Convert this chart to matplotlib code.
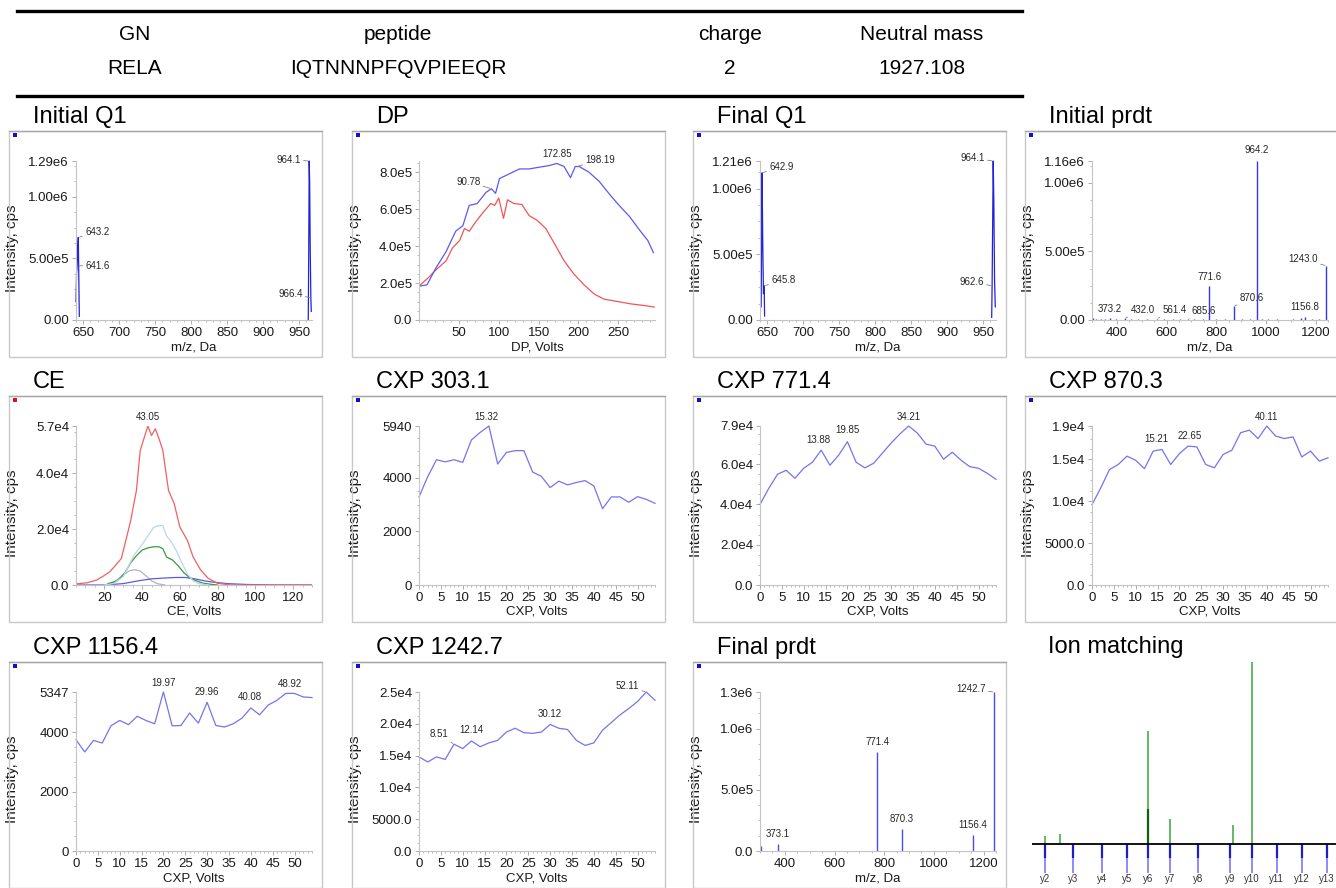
import numpy as np
import matplotlib.pyplot as plt
from matplotlib import font_manager
from matplotlib.lines import Line2D
from matplotlib.patches import Rectangle
from matplotlib.ticker import MultipleLocator, FixedLocator, AutoMinorLocator

W, H = 1336, 888

# ---- table ----
tbl_header = ['GN', 'peptide', 'charge', 'Neutral mass']
tbl_row = ['RELA', 'IQTNNNPFQVPIEEQR', '2', '1927.108']

# ---- Initial Q1 (profile, nan separates the two windows) ----
iq1_mz = [640.0, 640.8, 641.6, 642.4, 643.2, 644.0, 644.6, np.nan,
          962.8, 963.4, 964.1, 964.8, 965.5, 966.4, 967.0]
iq1_int = [1.5e5, 3.8e5, 4.4e5, 6.0e5, 6.7e5, 3.0e5, 0.3e5, np.nan,
           0.0, 5.0e5, 1.29e6, 1.1e6, 6.0e5, 1.8e5, 0.7e5]

# ---- DP ----
dp_v_blue = [0, 10, 21, 34, 46, 55, 63, 73, 84, 90.78, 96, 101, 113, 126, 138, 150,
             163, 172.85, 182, 190, 196, 201, 213, 226, 239, 251, 264, 276, 287, 294]
dp_blue = [1.83e5, 1.9e5, 2.8e5, 3.7e5, 4.8e5, 5.1e5, 6.2e5, 6.3e5, 6.9e5, 7.1e5, 6.85e5,
           7.65e5, 7.9e5, 8.17e5, 8.17e5, 8.26e5, 8.35e5, 8.47e5, 8.3e5, 7.7e5, 8.3e5,
           8.3e5, 8.0e5, 7.5e5, 6.8e5, 6.2e5, 5.6e5, 4.9e5, 4.3e5, 3.65e5]
dp_v_red = [0, 11, 21, 34, 42, 51, 57, 63, 71, 80, 90, 95, 100, 106, 111, 119, 129,
            138, 148, 159, 169, 182, 194, 207, 220, 232, 249, 266, 283, 295]
dp_red = [1.83e5, 2.26e5, 2.7e5, 3.2e5, 3.9e5, 4.3e5, 4.95e5, 4.8e5, 5.3e5, 5.8e5,
          6.3e5, 6.2e5, 6.6e5, 5.5e5, 6.5e5, 6.3e5, 6.25e5, 5.65e5, 5.4e5, 4.95e5,
          4.2e5, 3.2e5, 2.5e5, 1.9e5, 1.4e5, 1.13e5, 1.0e5, 0.87e5, 0.78e5, 0.7e5]

# ---- Final Q1 ----
fq1_mz = [641.6, 642.9, 643.8, 644.8, 645.8, 646.4, np.nan,
          962.0, 962.6, 963.3, 964.1, 965.0, 966.0, 967.0]
fq1_int = [0.1e6, 1.12e6, 6.0e5, 2.0e5, 2.6e5, 0.3e5, np.nan,
           0.2e5, 2.6e5, 7.0e5, 1.21e6, 9.0e5, 3.0e5, 1.0e5]

# ---- Initial prdt (stick spectrum) ----
ip_mz = [303.0, 318.0, 335.0, 352.0, 373.2, 395.0, 432.0, 455.0, 487.0, 520.0, 561.4,
         590.0, 625.0, 655.0, 685.6, 712.0, 745.0, 771.6, 800.0, 836.0, 870.6, 905.0,
         938.0, 964.2, 985.0, 1010.0, 1045.0, 1078.0, 1110.0, 1140.0, 1156.8, 1185.0,
         1215.0, 1243.0]
ip_int = [1.5e4, 0.8e4, 0.6e4, 0.5e4, 1.6e4, 0.5e4, 1.2e4, 0.4e4, 0.6e4, 0.4e4, 0.9e4,
          0.4e4, 0.5e4, 0.6e4, 0.8e4, 0.5e4, 0.4e4, 2.47e5, 0.5e4, 0.6e4, 1.0e5, 0.5e4,
          0.4e4, 1.16e6, 0.8e4, 0.4e4, 0.6e4, 0.3e4, 0.5e4, 1.8e4, 2.5e4, 0.4e4,
          0.5e4, 3.95e5]

# ---- CE (five transitions) ----
ce_v_red = [5, 11, 16, 19, 23, 26, 29, 31, 34, 37, 39, 43.05, 45, 47, 49, 51, 52.5, 54,
            57, 60, 64, 67, 71, 75, 80, 87, 100, 130]
ce_red = [400, 800, 1800, 3000, 4800, 7100, 9500, 14900, 23200, 33900, 48200, 57000,
          53600, 56000, 52400, 48200, 41000, 33900, 29200, 20800, 16000, 10100, 5400,
          2400, 600, 0, 0, 0]
ce_v_lblue = [20, 25, 30, 33, 36, 40, 43, 46, 48, 51, 53, 55, 58, 61, 64, 67, 70, 75]
ce_lblue = [0, 500, 3000, 7000, 11000, 14500, 17500, 20500, 21200, 21300, 17500,
            16000, 12500, 8000, 4000, 1500, 500, 0]
ce_v_green = [22, 27, 31, 34, 37, 40, 43, 46, 49, 51, 53, 56, 59, 62, 65, 68, 72, 76, 80]
ce_green = [500, 1500, 4500, 8000, 10500, 12500, 13300, 13700, 13700, 13000, 10000,
            9000, 7000, 4500, 2700, 1700, 700, 300, 0]
ce_v_gray = [20, 25, 29, 33, 36, 39, 42, 45, 48, 52]
ce_gray = [0, 1000, 3000, 5000, 5500, 5000, 3300, 1500, 500, 0]
ce_v_blue = [5, 20, 30, 38, 45, 52, 58, 63, 68, 73, 78, 85, 95, 110, 130]
ce_blue = [0, 0, 500, 1500, 2200, 2500, 2700, 2700, 2200, 1500, 1000, 500, 200, 0, 0]

# ---- CXP ramps (0..54 V, 2 V steps) ----
cxp_volts = list(range(0, 55, 2))
cxp303 = [3290, 4050, 4680, 4600, 4680, 4580, 5420, 5700, 5940, 4520, 4950, 5020, 5020,
          4220, 4060, 3640, 3880, 3740, 3830, 3900, 3700, 2850, 3290, 3290, 3090, 3300,
          3200, 3050]
cxp771 = [40000, 48000, 55000, 57000, 53000, 58000, 61000, 67000, 59500, 64500, 71200,
          61000, 58200, 60500, 65500, 70500, 75000, 79000, 75500, 70000, 69000, 62500,
          66000, 62000, 58800, 58000, 55500, 52500]
cxp870 = [9600, 11600, 13800, 14400, 15400, 14900, 13900, 16000, 16200, 14400, 15700,
          16600, 16500, 14400, 14000, 15600, 16100, 18200, 18500, 17500, 19000, 17800,
          17500, 17700, 15300, 16000, 14800, 15200]
cxp1156 = [3740, 3330, 3720, 3630, 4210, 4390, 4250, 4530, 4390, 4280, 5347, 4210, 4220,
           4640, 4300, 5000, 4220, 4170, 4280, 4470, 4810, 4580, 4910, 5070, 5300, 5300,
           5180, 5160]
cxp1242 = [14800, 14000, 14800, 14400, 16800, 16100, 17300, 16400, 17000, 17400, 18700,
           19300, 18600, 18500, 18700, 19900, 19300, 19100, 17400, 16600, 17000, 19000,
           20200, 21400, 22400, 23500, 25000, 23700]

# ---- Final prdt ----
fp_mz = [303.2, 373.1, 771.4, 870.3, 1156.4, 1242.7]
fp_int = [4.0e4, 5.5e4, 8.07e5, 1.77e5, 1.3e5, 1.3e6]

# ---- Ion matching ----
y_names = ['y2', 'y3', 'y4', 'y5', 'y6', 'y7', 'y8', 'y9', 'y10', 'y11', 'y12', 'y13']
y_mz = [303.18, 432.22, 561.26, 674.35, 771.40, 870.47, 998.53, 1145.59, 1242.65,
        1356.69, 1470.74, 1584.78]
match_mz = [303.2, 373.1, 771.4, 870.3, 1156.4, 1242.7]
match_int = [5.7e4, 7.2e4, 8.04e5, 1.8e5, 1.37e5, 1.3e6]
match_dark_mz = [771.4]
match_dark_int = [2.5e5]

# ---------------------------------------------------------------
names = {f.name for f in font_manager.fontManager.ttflist}
narrow = 'Liberation Sans Narrow' if 'Liberation Sans Narrow' in names else 'Liberation Sans'
main_font = 'Liberation Sans'
plt.rcParams['font.family'] = [narrow, 'DejaVu Sans']
tick_fs = 11 if narrow.endswith('Narrow') else 9.5
ann_fs = 8 if narrow.endswith('Narrow') else 7

fig = plt.figure(figsize=(W / 100, H / 100), dpi=100)


def fx(x):
    return x / W


def fy(y):
    return 1 - y / H


# table lines and text
for yy in (11, 96):
    fig.add_artist(Line2D([fx(17), fx(1022)], [fy(yy), fy(yy)], color='black', lw=2.4))
tbl_x = [135, 398, 730, 922]
for i in range(4):
    fig.text(fx(tbl_x[i]), fy(34), tbl_header[i], ha='center', va='center',
             fontsize=15, family=main_font)
    fig.text(fx(tbl_x[i]), fy(68), tbl_row[i], ha='center', va='center',
             fontsize=15, family=main_font)

col_left = [9, 352, 693, 1025]
row_top = [131, 396, 662]
AX_W, AX_H = 236, 159


def panel(row, col, title, mark='#1010c8'):
    bl, bt = col_left[col], row_top[row]
    fig.text(fx(bl + 24), fy(bt - 14), title, fontsize=17, ha='left', va='center',
             family=main_font)
    fig.add_artist(Rectangle((fx(bl), fy(bt + 226)), 313 / W, 226 / H,
                             transform=fig.transFigure, fill=False, ec='#c8c8c8', lw=1))
    fig.add_artist(Line2D([fx(bl), fx(bl + 313)], [fy(bt), fy(bt)], color='#a8a8a8', lw=1))
    fig.add_artist(Rectangle((fx(bl + 4), fy(bt + 6)), 4 / W, 4 / H,
                             transform=fig.transFigure, color=mark, lw=0))
    ax = fig.add_axes([fx(bl + 67), fy(bt + 189), AX_W / W, AX_H / H])
    ax.patch.set_alpha(0)
    return ax


def style(ax, xlim, xmajor, xminor, ylim, yticks, ylabels, xlabel):
    ax.set_xlim(xlim)
    ax.set_ylim(ylim)
    ax.xaxis.set_major_locator(FixedLocator(xmajor))
    ax.xaxis.set_minor_locator(MultipleLocator(xminor))
    ax.set_yticks(yticks)
    ax.set_yticklabels(ylabels)
    ax.yaxis.set_minor_locator(AutoMinorLocator(4))
    for s in ('top', 'right'):
        ax.spines[s].set_visible(False)
    for s in ('left', 'bottom'):
        ax.spines[s].set_color('#c4c4c4')
        ax.spines[s].set_linewidth(0.8)
    ax.tick_params(which='both', direction='out', color='#a0a0a0', labelcolor='#1a1a1a',
                   labelsize=tick_fs, pad=2)
    ax.tick_params(which='major', length=3, width=0.6)
    ax.tick_params(which='minor', length=1.6, width=0.5)
    ax.set_xlabel(xlabel, fontsize=tick_fs, color='#1a1a1a')
    ax.xaxis.set_label_coords(0.5, -21 / AX_H)
    ax.set_ylabel('Intensity, cps', fontsize=11, family=main_font, color='#1a1a1a')
    ax.yaxis.set_label_coords(-57 / AX_W, 0.45)


def label(ax, x, y, text, dx=0, dy=4, ha='center', leader=False):
    kw = dict(arrowprops=dict(arrowstyle='-', color='#808080', lw=0.6,
                              shrinkA=0, shrinkB=1)) if leader else {}
    ax.annotate(text, xy=(x, y), xytext=(dx, dy), textcoords='offset points', ha=ha,
                va='bottom' if not leader else 'center', fontsize=ann_fs, color='#262626',
                annotation_clip=False, **kw)


q1_ticks = list(range(650, 951, 50))
prdt_ticks = [400, 600, 800, 1000, 1200]
cxp_ticks = list(range(0, 51, 5))
blue = '#2222dd'
cxp_blue = '#7474ee'

# Initial Q1
ax = panel(0, 0, 'Initial Q1')
ax.plot(iq1_mz, iq1_int, color=blue, lw=0.9, clip_on=False)
style(ax, (640, 968), q1_ticks, 10, (0, 1.29e6), [0, 5e5, 1e6, 1.29e6],
      ['0.00', '5.00e5', '1.00e6', '1.29e6'], 'm/z, Da')
label(ax, 964.1, 1.29e6, '964.1', -6, 1, 'right', True)
label(ax, 643.2, 6.7e5, '643.2', 5, 4, 'left', True)
label(ax, 641.6, 4.4e5, '641.6', 6, 0, 'left', True)
label(ax, 966.4, 1.8e5, '966.4', -6, 3, 'right', True)

# DP
ax = panel(0, 1, 'DP')
ax.plot(dp_v_red, dp_red, color='#f05555', lw=0.9)
ax.plot(dp_v_blue, dp_blue, color='#5a5af0', lw=0.9)
style(ax, (0, 296), [50, 100, 150, 200, 250], 10, (0, 8.6e5),
      [0, 2e5, 4e5, 6e5, 8e5], ['0.0', '2.0e5', '4.0e5', '6.0e5', '8.0e5'], 'DP, Volts')
label(ax, 90.78, 7.1e5, '90.78', -8, 5, 'right', True)
label(ax, 172.85, 8.47e5, '172.85', 0, 3)
label(ax, 198.19, 8.3e5, '198.19', 6, 5, 'left', True)

# Final Q1
ax = panel(0, 2, 'Final Q1')
ax.plot(fq1_mz, fq1_int, color=blue, lw=0.9, clip_on=False)
style(ax, (640, 968), q1_ticks, 10, (0, 1.21e6), [0, 5e5, 1e6, 1.21e6],
      ['0.00', '5.00e5', '1.00e6', '1.21e6'], 'm/z, Da')
label(ax, 642.9, 1.12e6, '642.9', 5, 4, 'left', True)
label(ax, 645.8, 2.6e5, '645.8', 5, 4, 'left', True)
label(ax, 964.1, 1.21e6, '964.1', -6, 2, 'right', True)
label(ax, 962.6, 2.6e5, '962.6', -6, 3, 'right', True)

# Initial prdt
ax = panel(0, 3, 'Initial prdt')
ax.vlines(ip_mz, 0, ip_int, color='#3535ea', lw=1.0, clip_on=False)
style(ax, (300, 1250), prdt_ticks, 50, (0, 1.16e6), [0, 5e5, 1e6, 1.16e6],
      ['0.00', '5.00e5', '1.00e6', '1.16e6'], 'm/z, Da')
label(ax, 964.2, 1.16e6, '964.2', 0, 4)
label(ax, 1243.0, 3.95e5, '1243.0', -6, 5, 'right', True)
label(ax, 771.6, 2.47e5, '771.6', 0, 3)
label(ax, 870.6, 1.0e5, '870.6', 4, 6, 'left', True)
label(ax, 1156.8, 2.5e4, '1156.8', 0, 3)
label(ax, 373.2, 1.6e4, '373.2', 0, 3)
label(ax, 432.0, 1.2e4, '432.0', 4, 6, 'left', True)
label(ax, 561.4, 0.9e4, '561.4', 4, 6, 'left', True)
label(ax, 685.6, 0.8e4, '685.6', 3, 6, 'left', True)

# CE
ax = panel(1, 0, 'CE', mark='#dd1111')
ax.plot(ce_v_gray, ce_gray, color='#b8b0c0', lw=0.9)
ax.plot(ce_v_blue, ce_blue, color='#5a5ae6', lw=0.9)
ax.plot(ce_v_green, ce_green, color='#3a9a3a', lw=0.9)
ax.plot(ce_v_lblue, ce_lblue, color='#b8d6f0', lw=0.9)
ax.plot(ce_v_red, ce_red, color='#f06060', lw=0.9)
style(ax, (5, 130), [20, 40, 60, 80, 100, 120], 5, (0, 5.7e4),
      [0, 2e4, 4e4, 5.7e4], ['0.0', '2.0e4', '4.0e4', '5.7e4'], 'CE, Volts')
label(ax, 43.05, 5.7e4, '43.05', 0, 3)

# CXP panels
cxp_panels = [
    (1, 1, 'CXP 303.1', cxp303, [0, 2000, 4000, 5940], ['0', '2000', '4000', '5940'],
     [(15.32, 5940, '15.32', 0, 3, 'center', False)]),
    (1, 2, 'CXP 771.4', cxp771, [0, 2e4, 4e4, 6e4, 7.9e4],
     ['0.0', '2.0e4', '4.0e4', '6.0e4', '7.9e4'],
     [(14, 6.7e4, '13.88', -2, 4, 'center', False),
      (20, 7.12e4, '19.85', 0, 5, 'center', False),
      (34, 7.9e4, '34.21', 0, 3, 'center', False)]),
    (1, 3, 'CXP 870.3', cxp870, [0, 5000, 1e4, 1.5e4, 1.9e4],
     ['0.0', '5000.0', '1.0e4', '1.5e4', '1.9e4'],
     [(16, 1.62e4, '15.21', -4, 4, 'center', False),
      (22, 1.66e4, '22.65', 1, 4, 'center', False),
      (40, 1.9e4, '40.11', 0, 3, 'center', False)]),
    (2, 0, 'CXP 1156.4', cxp1156, [0, 2000, 4000, 5347], ['0', '2000', '4000', '5347'],
     [(20, 5347, '19.97', 0, 3, 'center', False),
      (30, 5000, '29.96', 0, 4, 'center', False),
      (40, 4810, '40.08', -1, 4, 'center', False),
      (49, 5300, '48.92', 0, 3, 'center', False)]),
    (2, 1, 'CXP 1242.7', cxp1242, [0, 5000, 1e4, 1.5e4, 2e4, 2.5e4],
     ['0.0', '5000.0', '1.0e4', '1.5e4', '2.0e4', '2.5e4'],
     [(8, 1.68e4, '8.51', -4, 7, 'right', True),
      (12, 1.73e4, '12.14', 0, 4, 'center', False),
      (30, 1.99e4, '30.12', 0, 4, 'center', False),
      (52, 2.5e4, '52.11', -5, 4, 'right', True)]),
]
for row, col, title, vals, yt, yl, labs in cxp_panels:
    ax = panel(row, col, title)
    ax.plot(cxp_volts, vals, color=cxp_blue, lw=0.9, clip_on=False)
    style(ax, (0, 54), cxp_ticks, 1, (0, yt[-1]), yt, yl, 'CXP, Volts')
    for x, y, t, dx, dy, ha, ld in labs:
        label(ax, x, y, t, dx, dy, ha, ld)

# Final prdt
ax = panel(2, 2, 'Final prdt')
ax.vlines(fp_mz, 0, fp_int, color='#4a4aee', lw=1.0, clip_on=False)
style(ax, (300, 1250), prdt_ticks, 50, (0, 1.3e6), [0, 5e5, 1e6, 1.3e6],
      ['0.0', '5.0e5', '1.0e6', '1.3e6'], 'm/z, Da')
label(ax, 1242.7, 1.3e6, '1242.7', -6, 2, 'right', True)
label(ax, 771.4, 8.07e5, '771.4', 0, 4)
label(ax, 870.3, 1.77e5, '870.3', 0, 4)
label(ax, 1156.4, 1.3e5, '1156.4', 0, 4)
label(ax, 373.1, 5.5e4, '373.1', 0, 4)

# Ion matching
fig.text(fx(1048), fy(647), 'Ion matching', fontsize=17, ha='left', va='center',
         family=main_font)
axm = fig.add_axes([fx(1032), fy(873), (W - 1032) / W, (873 - 662) / H])
axm.set_xlim(244, 1626)
blue_len = 2.1e5
axm.set_ylim(-blue_len, 1.3e6)
axm.axis('off')
axm.vlines(y_mz, -blue_len, 0, color='#6e6ef5', lw=1.1)
axm.vlines(y_mz, -1.0e5, 0, color='#1c1ccc', lw=1.6)
axm.vlines(match_mz, 0, match_int, color='#3aa63a', lw=1.1)
axm.vlines(match_dark_mz, 0, match_dark_int, color='#0a640a', lw=1.6)
axm.axhline(0, color='black', lw=1.3)
for mz, nm in zip(y_mz, y_names):
    axm.text(mz, -blue_len - 0.1e5, nm, ha='center', va='top', fontsize=ann_fs,
             color='#333333')

fig.savefig('out.png', dpi=100)
